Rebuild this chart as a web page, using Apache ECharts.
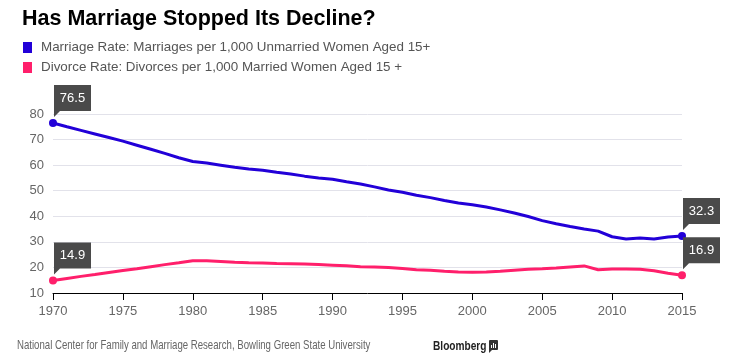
<!DOCTYPE html>
<html>
<head>
<meta charset="utf-8">
<script src="https://cdn.jsdelivr.net/npm/echarts@6/dist/echarts.min.js"></script>
<style>
html,body{margin:0;padding:0;background:#fff;}
#chart{width:733px;height:363px;}
</style>
</head>
<body>
<div id="chart"></div>
<script>
var years = [];
for (var y = 1970; y <= 2015; y++) years.push(y);

var marriageRate = [76.5, 75.0, 73.6, 72.2, 70.8, 69.4, 67.8, 66.2, 64.6, 62.9,
  61.4, 60.8, 60.0, 59.2, 58.5, 58.0, 57.2, 56.5, 55.7, 55.0,
  54.5, 53.5, 52.6, 51.5, 50.3, 49.4, 48.2, 47.3, 46.2, 45.2,
  44.5, 43.6, 42.5, 41.3, 39.9, 38.3, 37.1, 36.0, 35.0, 34.2,
  32.0, 31.1, 31.5, 31.1, 31.9, 32.3];

var divorceRate = [14.9, 15.7, 16.5, 17.2, 18.0, 18.8, 19.5, 20.3, 21.1, 21.8,
  22.6, 22.6, 22.3, 22.0, 21.8, 21.7, 21.5, 21.4, 21.3, 21.1,
  20.9, 20.7, 20.3, 20.2, 20.0, 19.6, 19.1, 18.9, 18.5, 18.2,
  18.1, 18.2, 18.5, 18.9, 19.3, 19.5, 19.8, 20.2, 20.6, 19.1,
  19.4, 19.4, 19.3, 18.7, 17.7, 16.9];

var seriesNames = ['Marriage Rate: Marriages per 1,000 Unmarried Women Aged 15+',
                   'Divorce Rate: Divorces per 1,000 Married Women Aged 15 +'];
var colors = ['#2200d8', '#ff1f6b'];
var xTicks = [1970, 1975, 1980, 1985, 1990, 1995, 2000, 2005, 2010, 2015];

function pairs(vals) {
  return years.map(function (yr, i) { return [yr, vals[i]]; });
}

var flagPath = 'path://M0,0 L37,0 L37,26 L6,26 L0,32 Z';
var FONT = 'Liberation Sans, Arial, sans-serif';

function endMarks(vals, color) {
  var first = [years[0], vals[0]];
  var last = [years[years.length - 1], vals[vals.length - 1]];
  function flag(c, v) {
    return {
      coord: c, value: v,
      symbol: flagPath, symbolSize: [37, 32], symbolOffset: [19.5, -22],
      itemStyle: {color: '#4a4a4a'},
      label: {show: true, position: 'inside', offset: [0, -3], color: '#fff',
        fontSize: 13, fontFamily: FONT,
        formatter: function (p) { return p.value.toFixed(1); }}
    };
  }
  function dot(c) {
    return {coord: c, symbol: 'circle', symbolSize: 8, itemStyle: {color: color},
      label: {show: false}};
  }
  return [dot(first), dot(last), flag(first, vals[0]), flag(last, vals[vals.length - 1])];
}

var chart = echarts.init(document.getElementById('chart'), null, {renderer: 'canvas'});
chart.setOption({
  animation: false,
  backgroundColor: '#fff',
  title: {
    text: 'Has Marriage Stopped Its Decline?',
    left: 17, top: 3,
    textStyle: {fontFamily: FONT, fontWeight: 'bold', fontSize: 21.5, color: '#000'}
  },
  legend: {
    orient: 'vertical', left: 23, top: 40, padding: 0,
    itemWidth: 9, itemHeight: 11, itemGap: 5,
    icon: 'rect',
    textStyle: {fontFamily: FONT, fontSize: 13.4, color: '#555', padding: [0, 0, 0, 4], lineHeight: 15},
    data: seriesNames
  },
  grid: {left: 53, right: 51, top: 114, bottom: 70},
  xAxis: {
    type: 'value', min: 1970, max: 2015, interval: 5,
    axisLine: {show: true, lineStyle: {color: '#000', width: 1}},
    axisTick: {show: true, length: 7, lineStyle: {color: '#000'}},
    splitLine: {show: false},
    axisLabel: {color: '#666', fontSize: 13, margin: 12, fontFamily: FONT,
      customValues: xTicks, formatter: function (v) { return String(v); }}
  },
  yAxis: {
    type: 'value', min: 10, max: 80, interval: 10,
    axisLine: {show: false}, axisTick: {show: false},
    splitLine: {show: true, lineStyle: {color: '#e2e2ea', width: 1}},
    axisLabel: {color: '#666', fontSize: 13, margin: 9, fontFamily: FONT}
  },
  series: [
    {
      name: seriesNames[0], type: 'line', data: pairs(marriageRate),
      showSymbol: false, lineStyle: {color: colors[0], width: 3}, itemStyle: {color: colors[0]},
      z: 3,
      markPoint: {data: endMarks(marriageRate, colors[0]), z: 5}
    },
    {
      name: seriesNames[1], type: 'line', data: pairs(divorceRate),
      showSymbol: false, lineStyle: {color: colors[1], width: 3}, itemStyle: {color: colors[1]},
      z: 3,
      markPoint: {data: endMarks(divorceRate, colors[1]), z: 5}
    }
  ],
  graphic: [
    {type: 'text', x: 17, y: 339, scaleX: 0.74,
      style: {text: 'National Center for Family and Marriage Research, Bowling Green State University',
        fill: '#666', font: '13px "Liberation Sans", Arial, sans-serif'}},
    {type: 'text', x: 433, y: 339, scaleX: 0.75,
      style: {text: 'Bloomberg', fill: '#222', font: 'bold 13.5px "Liberation Sans", Arial, sans-serif'}},
    {type: 'rect', x: 489, y: 340, shape: {width: 9, height: 10, r: 1}, style: {fill: '#333'}},
    {type: 'rect', x: 491, y: 345, shape: {width: 1, height: 3}, style: {fill: '#fff'}},
    {type: 'rect', x: 493, y: 343, shape: {width: 1, height: 5}, style: {fill: '#fff'}},
    {type: 'rect', x: 495, y: 344, shape: {width: 1, height: 4}, style: {fill: '#fff'}},
    {type: 'polygon', shape: {points: [[489, 349], [493, 349], [489, 353]]}, style: {fill: '#333'}}
  ]
});
</script>
</body>
</html>
